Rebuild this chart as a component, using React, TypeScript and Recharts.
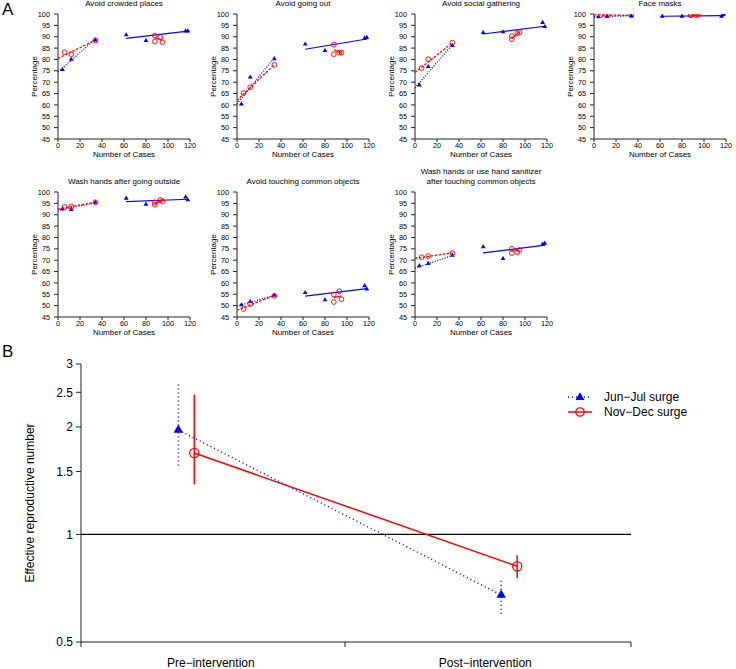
import React from "react";
import { ComposedChart, Scatter, XAxis, YAxis, ReferenceLine } from "recharts";

const BLUE = "#0000ff";
const RED = "#ff0000";
const AXIS = "#222";
const FONT = '"Liberation Sans", Arial, Helvetica, sans-serif';

// case counts at each survey (x values), per surge
const junCases = [4, 12, 34, 62, 80, 116, 118];
const novCases = [6, 12, 34, 88, 88, 93, 95];

// x ranges of the fitted lines
const earlyFitX = [0, 34];
const junLateFitX = [62, 118];
const novLateFitX = [88, 95];

const caseTicks = [0, 20, 40, 60, 80, 100, 120];
const pctTicks = [45, 50, 55, 60, 65, 70, 75, 80, 85, 90, 95, 100];

// percentages (Jun-Jul, Nov-Dec) and fitted line ends
// fit = [junEarly0, junEarly1, novEarly0, novEarly1, junLate0, junLate1, novLate0, novLate1]
const crowdedJun = [75.5, 80, 88.5, 90.8, 88.3, 92.5, 92.5];
const crowdedNov = [83.2, 82.3, 88.4, 90.5, 87.9, 89.8, 87.6];
const crowdedFit = [74.5, 89, 80.5, 88.5, 89.3, 92.5, 89.6, 88.4];

const goingOutJun = [60.4, 72.2, 80.3, 86.7, 83.9, 89.3, 89.6];
const goingOutNov = [65.2, 67.8, 77.6, 86.5, 82.3, 83.0, 83.0];
const goingOutFit = [60.5, 80.8, 62, 77.8, 84.5, 89, 84.3, 82.8];

const gatheringJun = [68.7, 76.9, 86.1, 91.8, 92.1, 96.2, 94.4];
const gatheringNov = [76.2, 80.1, 87.4, 88.9, 90.3, 91.6, 92.0];
const gatheringFit = [67.5, 86.5, 74.3, 87.3, 91.2, 94.6, 89.2, 92.2];

const masksJun = [98.7, 98.9, 99.2, 99.0, 99.0, 99.0, 99.8];
const masksNov = [99.5, 99.6, 99.4, 99.6, 99.4, 99.5, 99.6];
const masksFit = [98.8, 99.2, 99.6, 99.4, 99.0, 99.3, 99.5, 99.5];

const washOutJun = [92.5, 92.2, 95.4, 97.2, 94.6, 97.8, 96.5];
const washOutNov = [93.4, 93.6, 95.5, 94.4, 95.4, 96.5, 95.9];
const washOutFit = [92, 95.2, 92.5, 95.5, 95.8, 96.8, 94.9, 96.3];

const touchJun = [50.3, 51.8, 54.5, 55.7, 52.5, 58.7, 57.3];
const touchNov = [48.5, 50.7, 54.3, 54.9, 51.6, 56.3, 52.8];
const touchFit = [49.8, 54.5, 48, 54.5, 54.2, 57.5, 53.5, 54.3];

const sanitizeJun = [67.5, 68.5, 72.1, 75.9, 70.7, 77.0, 77.4];
const sanitizeNov = [71.3, 71.8, 73.1, 75.0, 73.1, 73.5, 74.5];
const sanitizeFit = [66.5, 72, 70.8, 73.2, 73.2, 76.6, 74.6, 74.2];

const panels = [
  { title: ["Avoid crowded places"], jun: crowdedJun, nov: crowdedNov, fit: crowdedFit },
  { title: ["Avoid going out"], jun: goingOutJun, nov: goingOutNov, fit: goingOutFit },
  { title: ["Avoid social gathering"], jun: gatheringJun, nov: gatheringNov, fit: gatheringFit },
  { title: ["Face masks"], jun: masksJun, nov: masksNov, fit: masksFit },
  { title: ["Wash hands after going outside"], jun: washOutJun, nov: washOutNov, fit: washOutFit },
  { title: ["Avoid touching common objects"], jun: touchJun, nov: touchNov, fit: touchFit },
  {
    title: ["Wash hands or use hand sanitizer", "after touching common objects"],
    jun: sanitizeJun,
    nov: sanitizeNov,
    fit: sanitizeFit,
  },
];

// panel B: effective reproductive number
const phaseLabels = ["Pre\u2212intervention", "Post\u2212intervention"];
const phaseLabelX = [0.236, 0.735];
const phaseTickX = [0, 0.48, 1];
const junPhaseX = [0.177, 0.764];
const novPhaseX = [0.206, 0.793];
const junRt = [1.96, 0.677];
const junRtLow = [1.56, 0.6];
const junRtHigh = [2.63, 0.751];
const novRt = [1.69, 0.815];
const novRtLow = [1.38, 0.754];
const novRtHigh = [2.46, 0.875];
const rtTicks = [0.5, 1, 1.5, 2, 2.5, 3];

const toPts = (xs: number[], ys: number[]) => xs.map((x, i) => ({ x, y: ys[i] }));

function triangle(cx: number, cy: number, side: number, color: string) {
  const h = (side * Math.sqrt(3)) / 2;
  const pts = `${cx},${cy - (2 * h) / 3} ${cx - side / 2},${cy + h / 3} ${cx + side / 2},${cy + h / 3}`;
  return <polygon points={pts} fill={color} />;
}

const noShape = () => <g />;

function BehaviourPanel({ p, x0, top }: { p: any; x0: number; top: number }) {
  const f = p.fit;
  const jun = toPts(junCases, p.jun);
  const nov = toPts(novCases, p.nov);
  const junEarly = toPts(earlyFitX, [f[0], f[1]]);
  const novEarly = toPts(earlyFitX, [f[2], f[3]]);
  const junLate = toPts(junLateFitX, [f[4], f[5]]);
  const novLate = toPts(novLateFitX, [f[6], f[7]]);
  const tick = { fontSize: 7.3, fill: "#000", fontFamily: FONT };

  return (
    <div style={{ position: "absolute", left: x0 - 40, top, width: 180, height: 165 }}>
      <div
        style={{
          position: "absolute",
          left: 30,
          width: 152,
          top: 9 - 10 * p.title.length,
          textAlign: "center",
          fontSize: 8,
          lineHeight: "10px",
          fontFamily: FONT,
          whiteSpace: "nowrap",
        }}
      >
        {p.title.map((t: string) => (
          <div key={t}>{t}</div>
        ))}
      </div>
      <ComposedChart width={180} height={165} margin={{ top: 14, right: 8, bottom: 0, left: 0 }}>
        <XAxis
          type="number"
          dataKey="x"
          domain={[0, 120]}
          ticks={caseTicks}
          interval={0}
          height={26}
          tickSize={3}
          tickMargin={1}
          tick={tick}
          stroke={AXIS}
          allowDataOverflow
          label={{ value: "Number of Cases", position: "insideBottom", offset: 8, style: { fontSize: 8, fill: "#000", fontFamily: FONT } }}
        />
        <YAxis
          type="number"
          dataKey="y"
          domain={[45, 100]}
          ticks={pctTicks}
          interval={0}
          width={40}
          tickSize={4}
          tickMargin={4}
          tick={tick}
          stroke={AXIS}
          allowDataOverflow
          label={{
            value: "Percentage",
            angle: -90,
            position: "insideLeft",
            offset: 16,
            style: { textAnchor: "middle", fontSize: 8, fill: "#000", fontFamily: FONT },
          }}
        />
        <Scatter data={junEarly} shape={noShape} line={{ stroke: BLUE, strokeWidth: 1.3, strokeDasharray: "1 1.6" }} isAnimationActive={false} />
        <Scatter data={novEarly} shape={noShape} line={{ stroke: RED, strokeWidth: 1.3, strokeDasharray: "2.5 1.5" }} isAnimationActive={false} />
        <Scatter data={junLate} shape={noShape} line={{ stroke: BLUE, strokeWidth: 1.2 }} isAnimationActive={false} />
        <Scatter data={novLate} shape={noShape} line={{ stroke: RED, strokeWidth: 1.2 }} isAnimationActive={false} />
        <Scatter data={jun} shape={(s: any) => triangle(s.cx, s.cy, 4.8, BLUE)} isAnimationActive={false} />
        <Scatter
          data={nov}
          shape={(s: any) => <circle cx={s.cx} cy={s.cy} r={2.4} fill="none" stroke={RED} strokeWidth={0.9} />}
          isAnimationActive={false}
        />
      </ComposedChart>
    </div>
  );
}

function PhaseTick({ x, y, payload }: any) {
  const i = phaseLabelX.indexOf(payload.value);
  if (i >= 0) {
    return (
      <text x={x} y={y + 25} textAnchor="middle" fontSize={12} fontFamily={FONT} fill="#000">
        {phaseLabels[i]}
      </text>
    );
  }
  return <line x1={x} x2={x} y1={y} y2={y + 5} stroke={AXIS} />;
}

function RtPanel() {
  const junLine = toPts(junPhaseX, junRt);
  const novLine = toPts(novPhaseX, novRt);
  const xTicks = [...phaseTickX, ...phaseLabelX].sort((a, b) => a - b);

  return (
    <div style={{ position: "absolute", left: 0, top: 340, width: 736, height: 329 }}>
      <ComposedChart width={736} height={329} margin={{ top: 24, right: 105, bottom: 0, left: 0 }}>
        <XAxis
          type="number"
          dataKey="x"
          domain={[0, 1]}
          ticks={xTicks}
          interval={0}
          height={27}
          tickSize={0}
          tickMargin={0}
          tickLine={false}
          tick={<PhaseTick />}
          stroke={AXIS}
          allowDataOverflow
        />
        <YAxis
          type="number"
          dataKey="y"
          scale="log"
          domain={[0.5, 3]}
          ticks={rtTicks}
          interval={0}
          width={81}
          tickSize={5}
          tickMargin={3}
          tick={{ fontSize: 12, fill: "#000", fontFamily: FONT }}
          stroke={AXIS}
          allowDataOverflow
          label={{
            value: "Effective reproductive number",
            angle: -90,
            position: "insideLeft",
            offset: 30,
            style: { textAnchor: "middle", fontSize: 12, fill: "#000", fontFamily: FONT },
          }}
        />
        <ReferenceLine y={1} stroke="#000" strokeWidth={1.3} />
        {junPhaseX.map((x, i) => (
          <Scatter
            key={`jci${i}`}
            data={toPts([x, x], [junRtLow[i], junRtHigh[i]])}
            shape={noShape}
            line={{ stroke: BLUE, strokeWidth: 1.5, strokeDasharray: "1 3" }}
            isAnimationActive={false}
          />
        ))}
        {novPhaseX.map((x, i) => (
          <Scatter
            key={`nci${i}`}
            data={toPts([x, x], [novRtLow[i], novRtHigh[i]])}
            shape={noShape}
            line={{ stroke: RED, strokeWidth: 1.5 }}
            isAnimationActive={false}
          />
        ))}
        <Scatter
          data={junLine}
          line={{ stroke: BLUE, strokeWidth: 1.5, strokeDasharray: "1 3" }}
          shape={(s: any) => triangle(s.cx, s.cy, 9.5, BLUE)}
          isAnimationActive={false}
        />
        <Scatter
          data={novLine}
          line={{ stroke: RED, strokeWidth: 1.5 }}
          shape={(s: any) => <circle cx={s.cx} cy={s.cy} r={4.6} fill="none" stroke={RED} strokeWidth={1.3} />}
          isAnimationActive={false}
        />
      </ComposedChart>
      <svg style={{ position: "absolute", left: 560, top: 48 }} width={170} height={34}>
        <line x1={8} x2={32} y1={9} y2={9} stroke={BLUE} strokeWidth={1.5} strokeDasharray="1 3" />
        {triangle(20, 9.5, 9, BLUE)}
        <text x={44} y={13} fontSize={12} fontFamily={FONT} fill="#000">
          Jun{"\u2212"}Jul surge
        </text>
        <line x1={8} x2={32} y1={24} y2={24} stroke={RED} strokeWidth={1.5} />
        <circle cx={20} cy={24} r={4.2} fill="none" stroke={RED} strokeWidth={1.3} />
        <text x={44} y={28} fontSize={12} fontFamily={FONT} fill="#000">
          Nov{"\u2212"}Dec surge
        </text>
      </svg>
    </div>
  );
}

const panelX = [58, 237, 415, 594, 58, 237, 415];
const panelTop = [0, 0, 0, 0, 178, 178, 178];

export default function App() {
  return (
    <div
      style={{
        position: "absolute",
        left: 0,
        top: 0,
        width: 736,
        height: 669,
        background: "#fff",
        fontFamily: FONT,
        overflow: "hidden",
      }}
    >
      <div style={{ position: "absolute", left: 2, top: 1, fontSize: 17, lineHeight: "18px" }}>A</div>
      <div style={{ position: "absolute", left: 2, top: 343, fontSize: 17, lineHeight: "18px" }}>B</div>
      {panels.map((p, i) => (
        <BehaviourPanel key={i} p={p} x0={panelX[i]} top={panelTop[i]} />
      ))}
      <RtPanel />
    </div>
  );
}
